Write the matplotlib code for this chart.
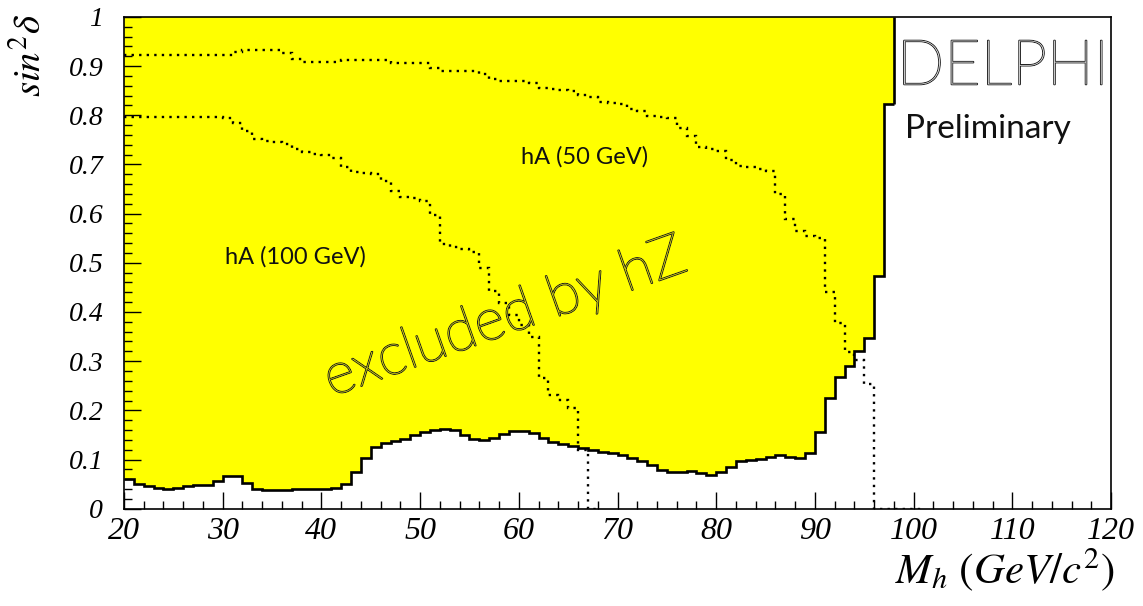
import numpy as np
import matplotlib
matplotlib.use('Agg')
import matplotlib.pyplot as plt
import matplotlib.patheffects as pe

plt.rcParams['mathtext.fontset'] = 'stix'

# hZ exclusion limit, 1 GeV bins from 20 to 98 GeV
hz_edges = np.arange(20, 99)
hz_limit = [0.060, 0.050, 0.046, 0.043, 0.040, 0.043, 0.046, 0.048, 0.048, 0.056,
            0.067, 0.067, 0.052, 0.039, 0.037, 0.038, 0.038, 0.039, 0.040, 0.040,
            0.040, 0.043, 0.050, 0.075, 0.104, 0.125, 0.133, 0.137, 0.142, 0.150,
            0.156, 0.161, 0.162, 0.159, 0.150, 0.141, 0.139, 0.144, 0.151, 0.157,
            0.158, 0.153, 0.144, 0.135, 0.131, 0.128, 0.124, 0.120, 0.116, 0.113,
            0.109, 0.103, 0.097, 0.089, 0.078, 0.074, 0.075, 0.077, 0.073, 0.069,
            0.074, 0.084, 0.096, 0.099, 0.101, 0.106, 0.109, 0.105, 0.103, 0.113,
            0.155, 0.225, 0.268, 0.291, 0.320, 0.347, 0.474, 0.824]

# hA (100 GeV) contour
ha100_edges = np.arange(20, 69)
ha100 = [0.797, 0.797, 0.797, 0.797, 0.797, 0.797, 0.797, 0.797, 0.797, 0.797,
         0.795, 0.785, 0.769, 0.752, 0.747, 0.745, 0.741, 0.732, 0.725, 0.722,
         0.720, 0.714, 0.695, 0.684, 0.682, 0.680, 0.666, 0.646, 0.634, 0.632,
         0.625, 0.598, 0.539, 0.533, 0.528, 0.523, 0.490, 0.443, 0.419, 0.394,
         0.374, 0.350, 0.266, 0.231, 0.221, 0.205, 0.120, 0.0]

# hA (50 GeV) contour
ha50_edges = np.arange(20, 102)
ha50 = [0.922, 0.922, 0.922, 0.922, 0.922, 0.922, 0.922, 0.922, 0.922, 0.922,
        0.922, 0.929, 0.933, 0.933, 0.933, 0.933, 0.927, 0.914, 0.909, 0.909,
        0.909, 0.909, 0.912, 0.912, 0.912, 0.912, 0.912, 0.906, 0.906, 0.906,
        0.906, 0.897, 0.890, 0.890, 0.890, 0.890, 0.883, 0.873, 0.870, 0.869,
        0.869, 0.866, 0.856, 0.854, 0.852, 0.850, 0.842, 0.837, 0.828, 0.826,
        0.823, 0.812, 0.808, 0.799, 0.797, 0.795, 0.775, 0.757, 0.735, 0.732,
        0.728, 0.710, 0.697, 0.694, 0.690, 0.686, 0.640, 0.590, 0.565, 0.555,
        0.550, 0.440, 0.378, 0.319, 0.303, 0.254, 0.0, 0.0, 0.0, 0.0, 0.0]

fig = plt.figure(figsize=(11.43, 6.06), dpi=100)
ax = fig.add_axes([0.1085, 0.1606, 0.8635, 0.8114])

# excluded region
ax.fill_between(hz_edges, np.append(hz_limit, hz_limit[-1]), 1, step='post',
                color='#ffff00', lw=0, zorder=1)

# hA contours
ax.stairs(ha100, ha100_edges, baseline=None, color='k', lw=1.7,
          linestyle=(0, (1, 2.2)), zorder=2)
ax.stairs(ha50, ha50_edges, baseline=None, color='k', lw=1.7,
          linestyle=(0, (1, 2.2)), zorder=2)

# hZ limit outline
ax.stairs(hz_limit, hz_edges, baseline=None, color='k', lw=1.9, zorder=3)
ax.vlines(hz_edges[-1], hz_limit[-1], 1, color='k', lw=1.9, zorder=3)

ax.set_xlim(20, 120)
ax.set_ylim(0, 1)
ax.set_xticks(np.arange(20, 121, 10))
ax.set_xticks(np.arange(20, 121, 2), minor=True)
ax.set_yticks(np.arange(0, 1.01, 0.1))
ax.set_yticks(np.arange(0, 1.001, 0.02), minor=True)
ax.set_yticklabels(['0', '0.1', '0.2', '0.3', '0.4', '0.5', '0.6', '0.7', '0.8', '0.9', '1'])
ax.tick_params(which='both', direction='in', top=False, right=False)
ax.tick_params(which='major', length=12, width=1)
ax.tick_params(which='minor', length=6, width=1)
ax.tick_params(axis='y', pad=15)
ax.tick_params(axis='x', pad=6)
for lab in ax.get_yticklabels():
    lab.set_fontfamily('Liberation Serif')
    lab.set_fontstyle('italic')
    lab.set_fontsize(20)
for lab in ax.get_xticklabels():
    lab.set_fontfamily('Liberation Serif')
    lab.set_fontstyle('italic')
    lab.set_fontsize(23)
for s in ax.spines.values():
    s.set_linewidth(1.2)

hollow = [pe.withStroke(linewidth=1.3, foreground='#222222')]

ax.text(60.2, 0.716, 'hA (50 GeV)', fontsize=17, va='center', ha='left',
        fontfamily='Lato', color='#111111', zorder=4)
ax.text(30.2, 0.513, 'hA (100 GeV)', fontsize=17, va='center', ha='left',
        fontfamily='Lato', color='#111111', zorder=4)
ax.text(58.6, 0.388, 'excluded by hZ', fontsize=42, rotation=19.5,
        ha='center', va='center', color='#ffff00', path_effects=hollow,
        fontfamily='Lato', fontweight='light', zorder=4)
ax.text(98.3, 0.898, 'DELPHI', fontsize=45, ha='left', va='center',
        color='white', path_effects=hollow, fontfamily='Lato',
        fontweight='light', zorder=4)
ax.text(99.1, 0.773, 'Preliminary', fontsize=24, ha='left', va='center',
        fontfamily='Lato', color='#111111', zorder=4)

fig.text(0.026, 0.909, r'$sin^{2}\delta$', rotation=90, fontsize=28,
         ha='center', va='center')
fig.text(0.975, 0.038, r'$M_{h}\ (GeV/c^{2})$', fontsize=31,
         ha='right', va='baseline')

fig.savefig('out.png', dpi=100)
